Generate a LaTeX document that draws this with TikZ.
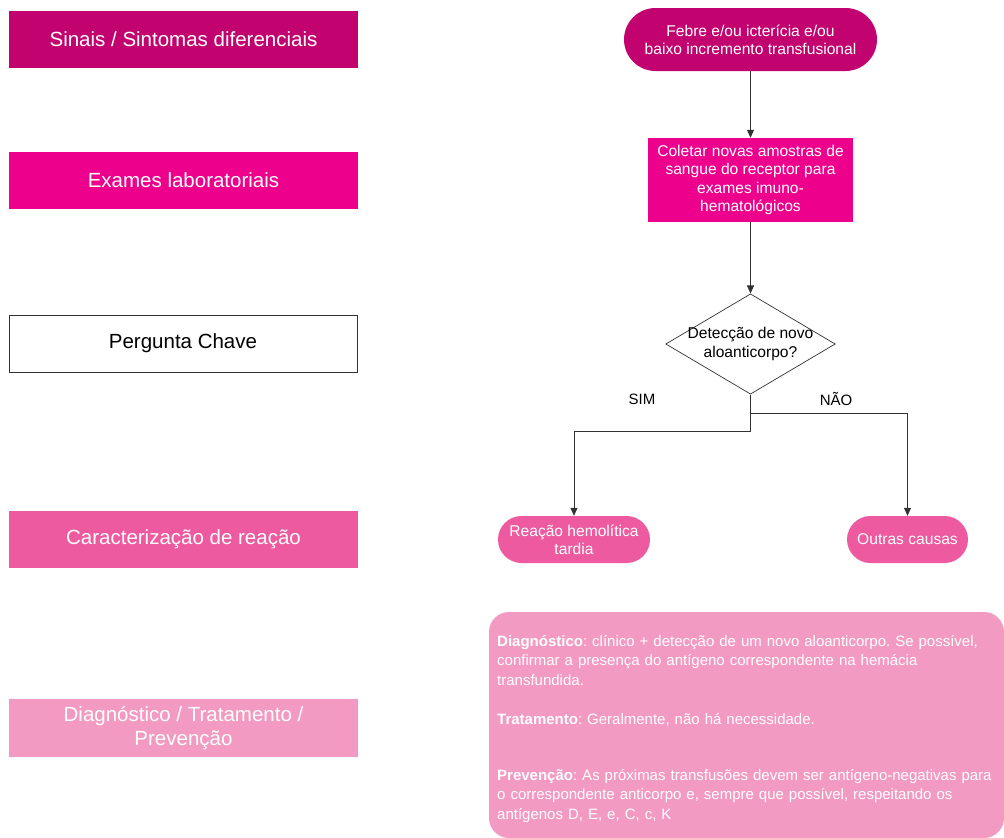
\documentclass[tikz,border=0pt]{standalone}
\usepackage{fontspec}
\setmainfont{Liberation Sans}
\usetikzlibrary{shapes.geometric,arrows.meta}
\definecolor{cA}{HTML}{C2036F}
\definecolor{cB}{HTML}{EC008C}
\definecolor{cC}{HTML}{EE5A9F}
\definecolor{cD}{HTML}{F39AC2}
\definecolor{ln}{HTML}{333333}
\tikzset{
  lab/.style={rectangle, minimum width=349pt, minimum height=57pt, inner sep=0pt, align=center, text=white, font=\fontsize{20.5}{24}\selectfont},
  pill/.style={rectangle, inner sep=0pt, align=center, text=white, font=\fontsize{15.6}{18.3}\selectfont},
  arr/.style={draw=ln, line width=0.8pt, -{Triangle[width=7pt,length=8pt]}},
  yn/.style={font=\fontsize{15}{18}\selectfont, text=black}
}
\begin{document}
\frenchspacing
\begin{tikzpicture}[x=1pt,y=-1pt]
\useasboundingbox (0,0) rectangle (1004,838);
% left column
\node[lab, fill=cA] (l1) at (183.5,39.5) {Sinais / Sintomas diferenciais};
\node[lab, fill=cB] (l2) at (183.5,180.5) {Exames laboratoriais};
\node[lab, fill=white, draw=ln, line width=0.7pt, text=black, minimum width=348pt] (l3) at (183,343.5) {Pergunta Chave};
\node[lab, fill=cC] (l4) at (183.5,539.5) {Caracterização de reação};
\node[lab, fill=cD, minimum height=58pt] (l5) at (183.5,728) {Diagnóstico / Tratamento /\\Prevenção};
% flow
\node[pill, fill=cA, minimum width=253pt, minimum height=63pt, rounded corners=31.5pt] (start) at (750.5,39.5) {Febre e/ou icterícia e/ou\\baixo incremento transfusional};
\node[pill, fill=cB, minimum width=205pt, minimum height=84pt] (col) at (750.5,180) {Coletar novas amostras de\\sangue do receptor para\\exames imuno-\\hematológicos};
\node[diamond, aspect=1.69, draw=ln, line width=0.7pt, fill=white, inner sep=-2.4pt, align=center, font=\fontsize{15.6}{19}\selectfont] (dec) at (750.5,344) {Detecção de novo\\aloanticorpo?};
\node[pill, fill=cC, minimum width=152pt, minimum height=47pt, rounded corners=23.5pt] (rea) at (574,539.5) {Reação hemolítica\\tardia};
\node[pill, fill=cC, minimum width=121pt, minimum height=47pt, rounded corners=23.5pt] (out) at (907.5,539.5) {Outras causas};
\node[yn] (sim) at (642,399) {SIM};
\node[yn] (nao) at (836,399) {NÃO};
\coordinate (js) at (574,431);
\coordinate (jn) at (907.5,413);
\draw[arr] (start) -- (col);
\draw[arr] (col) -- (dec);
\draw[arr] (dec.south) |- (js) -- (rea.north);
\draw[arr] (dec.south) |- (jn) -- (out.north);
% big box
\node[rectangle, fill=cD, rounded corners=20pt, minimum width=515pt, minimum height=226pt, inner sep=0pt] (big) at (746.5,725) {};
\node[anchor=north west, inner sep=0pt, text width=530pt, align=left, text=white, font=\fontsize{15}{19.5}\selectfont] (bigtxt) at (497,635) {\textbf{Diagnóstico}: clínico + detecção de um novo aloanticorpo. Se possível,\\confirmar a presença do antígeno correspondente na hemácia\\transfundida.\\[19.5pt]\textbf{Tratamento}: Geralmente, não há necessidade.\\[36.5pt]\textbf{Prevenção}: As próximas transfusões devem ser antígeno-negativas para\\o correspondente anticorpo e, sempre que possível, respeitando os\\antígenos D, E, e, C, c, K};
\end{tikzpicture}
\end{document}
